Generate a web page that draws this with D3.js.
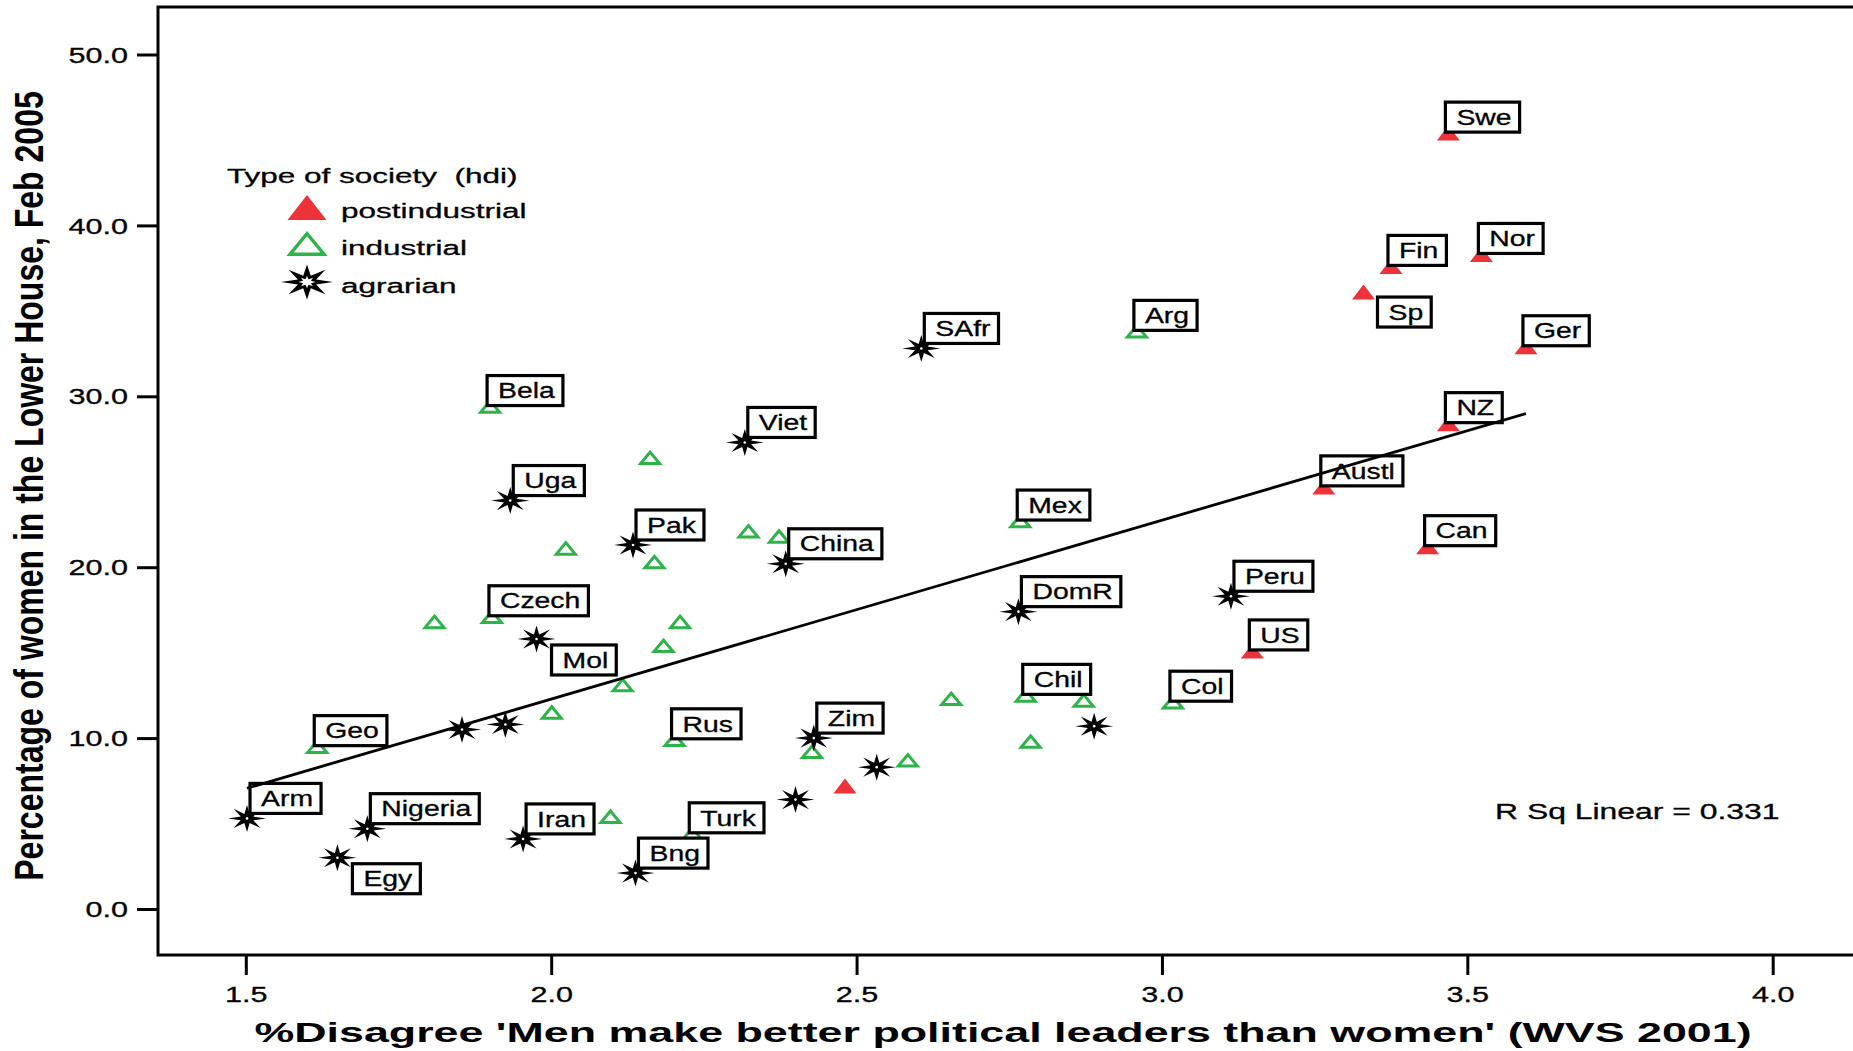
<!DOCTYPE html>
<html><head><meta charset="utf-8">
<script src="https://cdn.jsdelivr.net/npm/d3@7"></script>
<style>
html,body{margin:0;padding:0;background:#fff;overflow:hidden}
svg text{font-family:"Liberation Sans",Arial,Helvetica,sans-serif;fill:#000}
</style></head><body>
<svg id="chart" width="1853" height="1051"></svg>
<script>
// ---------------- data ----------------
const postindustrial = [
  {name:"Swe", x:3.469, y:45.4}, {name:"Nor", x:3.523, y:38.3}, {name:"Fin", x:3.375, y:37.6},
  {name:"Sp", x:3.330, y:36.1}, {name:"Ger", x:3.596, y:32.9}, {name:"NZ", x:3.469, y:28.4},
  {name:"Austl", x:3.265, y:24.7}, {name:"Can", x:3.435, y:21.2}, {name:"US", x:3.148, y:15.1},
  {name:"", x:2.481, y:7.2}
];
const industrial = [
  {name:"Arg", x:2.959, y:33.8}, {name:"Bela", x:1.900, y:29.4}, {name:"", x:2.162, y:26.4},
  {name:"", x:2.323, y:22.1}, {name:"", x:2.373, y:21.8}, {name:"Mex", x:2.768, y:22.7},
  {name:"", x:2.024, y:21.1}, {name:"", x:2.169, y:20.3}, {name:"Czech", x:1.903, y:17.1},
  {name:"", x:1.809, y:16.8}, {name:"", x:2.211, y:16.8}, {name:"", x:2.184, y:15.4},
  {name:"", x:2.117, y:13.1}, {name:"", x:2.655, y:12.3}, {name:"Chil", x:2.777, y:12.5},
  {name:"", x:2.872, y:12.2}, {name:"Col", x:3.018, y:12.1}, {name:"", x:2.001, y:11.5},
  {name:"Rus", x:2.202, y:9.9}, {name:"Geo", x:1.617, y:9.5}, {name:"", x:2.427, y:9.2},
  {name:"", x:2.785, y:9.8}, {name:"", x:2.584, y:8.7}, {name:"", x:2.097, y:5.4},
  {name:"Turk", x:2.231, y:4.4}
];
const agrarian = [
  {name:"SAfr", x:2.606, y:32.8}, {name:"Viet", x:2.317, y:27.3}, {name:"Uga", x:1.933, y:23.9},
  {name:"Pak", x:2.134, y:21.3}, {name:"China", x:2.384, y:20.2}, {name:"Peru", x:3.113, y:18.3},
  {name:"DomR", x:2.765, y:17.4}, {name:"Mol", x:1.976, y:15.8}, {name:"", x:1.925, y:10.8},
  {name:"", x:1.854, y:10.5}, {name:"Zim", x:2.430, y:10.0}, {name:"", x:2.889, y:10.7},
  {name:"", x:2.533, y:8.3}, {name:"", x:2.400, y:6.4}, {name:"Arm", x:1.502, y:5.3},
  {name:"Nigeria", x:1.699, y:4.7}, {name:"Iran", x:1.954, y:4.1}, {name:"Egy", x:1.650, y:3.0},
  {name:"Bng", x:2.138, y:2.1}
];
const xTicks = [1.5, 2.0, 2.5, 3.0, 3.5, 4.0];
const yTicks = [0, 10, 20, 30, 40, 50];
const fitIntercept = -8.66;
const fitSlope = 10.47;
const rSquared = 0.331;
const seriesNames = ["postindustrial", "industrial", "agrarian"];
const legendTitle = "Type of society\u00a0\u00a0(hdi)";
const xTitle = "%Disagree 'Men make better political leaders than women' (WVS 2001)";
const yTitle = "Percentage of women in the Lower House, Feb 2005";
const labelsBelowRight = ["Sp", "Mol", "Egy"];

// ---------------- layout ----------------
const W = 1853, H = 1051;
const frame = {left: 158, top: 7, bottom: 955};
const RED = "#ee3239", GREEN = "#2fb24a";
const svg = d3.select("#chart");
svg.append("rect").attr("width", W).attr("height", H).attr("fill", "#fff");

const x = d3.scaleLinear().domain([1.5, 4.0]).range([245.8, 1772.7]);
const y = d3.scaleLinear().domain([0, 50]).range([909, 54.5]);

// frame (right edge lies outside the picture)
svg.append("rect").attr("x", frame.left).attr("y", frame.top)
  .attr("width", 1800).attr("height", frame.bottom - frame.top)
  .attr("fill", "none").attr("stroke", "#000").attr("stroke-width", 3);

// axes
const FONT = '"Liberation Sans",Arial,Helvetica,sans-serif';
const gx = svg.append("g").attr("transform", `translate(0,${frame.bottom})`)
  .call(d3.axisBottom(x).tickValues(xTicks).tickFormat(d3.format(".1f")).tickSize(20).tickSizeOuter(0));
gx.attr("font-size", 21.5).attr("font-family", FONT);
gx.select(".domain").remove();
gx.selectAll(".tick line").attr("stroke", "#000").attr("stroke-width", 3);
gx.selectAll(".tick text").attr("y", null).attr("dy", null).attr("fill", "#000")
  .attr("stroke", "#000").attr("stroke-width", 0.3)
  .attr("transform", "translate(0,46.5) scale(1.42,1)");

const gy = svg.append("g").attr("transform", `translate(${frame.left},0)`)
  .call(d3.axisLeft(y).tickValues(yTicks).tickFormat(d3.format(".1f")).tickSize(21).tickSizeOuter(0));
gy.attr("font-size", 21.5).attr("font-family", FONT);
gy.select(".domain").remove();
gy.selectAll(".tick line").attr("stroke", "#000").attr("stroke-width", 3);
gy.selectAll(".tick text").attr("x", null).attr("dy", null).attr("fill", "#000")
  .attr("stroke", "#000").attr("stroke-width", 0.3)
  .attr("transform", "translate(-30,7.6) scale(1.42,1)");

// axis titles
svg.append("text").attr("text-anchor", "middle").attr("font-weight", "bold").attr("font-size", 28)
  .attr("transform", "translate(1003,1041.5) scale(1.6,1)").text(xTitle);
svg.append("text").attr("text-anchor", "middle").attr("font-weight", "bold").attr("font-size", 32)
  .attr("transform", "translate(43,486) scale(1.25,1) rotate(-90)").text(yTitle);

// marker shapes
function triPath(w, h) { return `M${-w/2},${h/2}L${w/2},${h/2}L0,${-h/2}Z`; }
function starPath(rx, ry, k) {
  const pts = d3.range(16).map(i => {
    const a = i * Math.PI / 8 - Math.PI / 2, r = i % 2 === 0 ? 1 : k;
    return [Math.cos(a) * r * rx, Math.sin(a) * r * ry];
  });
  return "M" + pts.map(p => p[0].toFixed(2) + "," + p[1].toFixed(2)).join("L") + "Z";
}
function drawMarker(g, type, big) {
  if (type === "postindustrial") {
    g.append("path").attr("d", big ? triPath(39, 25) : triPath(23, 15)).attr("fill", RED);
  } else if (type === "industrial") {
    g.append("path").attr("d", big ? triPath(34, 20.5) : triPath(19, 11.5))
      .attr("fill", "none").attr("stroke", GREEN).attr("stroke-width", big ? 3.4 : 3)
      .attr("stroke-linejoin", "miter");
  } else {
    g.append("path").attr("d", big ? starPath(26, 17.5, 0.38) : starPath(19, 13.5, 0.36)).attr("fill", "#000");
    if (big) g.append("path").attr("d", starPath(8.5, 6, 0.5)).attr("fill", "#fff");
    else g.append("circle").attr("r", 1.3).attr("fill", "#fff");
  }
}

const series = [
  {type: "postindustrial", data: postindustrial},
  {type: "industrial", data: industrial},
  {type: "agrarian", data: agrarian}
];

// points
const pointsG = svg.append("g");
series.forEach(s => {
  pointsG.selectAll(null).data(s.data).enter().append("g")
    .attr("transform", d => `translate(${x(d.x)},${y(d.y)})`)
    .each(function () { drawMarker(d3.select(this), s.type, false); });
});

// labels
const labelG = svg.append("g");
const LS = 1.32;
series.forEach(s => {
  s.data.filter(d => d.name).forEach(d => {
    const mx = x(d.x), my = y(d.y);
    const g = labelG.append("g");
    const rect = g.append("rect").attr("fill", "#fff").attr("stroke", "#000").attr("stroke-width", 3.2);
    const t = g.append("text").attr("font-size", 21.5).attr("stroke", "#000").attr("stroke-width", 0.3).text(d.name);
    const tw = t.node().getComputedTextLength() * LS;
    const bw = tw + 19, bh = 30;
    let left, top;
    if (labelsBelowRight.includes(d.name)) {
      left = mx + (s.type === "agrarian" ? 15 : 14);
      top = my + (s.type === "agrarian" ? 6 : 5);
    } else if (s.type === "agrarian") {
      left = mx + 3; top = my - 5 - bh;
    } else {
      left = mx - 3; top = my - 1 - bh;
    }
    rect.attr("x", left).attr("y", top).attr("width", bw).attr("height", bh);
    t.attr("transform", `translate(${left + 11},${top + 22.7}) scale(${LS},1)`);
  });
});

// regression line
const allX = [...postindustrial, ...industrial, ...agrarian].map(d => d.x);
const xr = d3.extent(allX);
svg.append("line")
  .attr("x1", x(xr[0])).attr("y1", y(fitIntercept + fitSlope * xr[0]))
  .attr("x2", x(xr[1])).attr("y2", y(fitIntercept + fitSlope * xr[1]))
  .attr("stroke", "#000").attr("stroke-width", 2.8);

svg.append("text").attr("font-size", 22).attr("stroke", "#000").attr("stroke-width", 0.3)
  .attr("transform", "translate(1495,819.3) scale(1.45,1)")
  .text(`R Sq Linear = ${rSquared.toFixed(3)}`);

// legend
const lg = svg.append("g");
lg.append("text").attr("font-size", 21).attr("stroke", "#000").attr("stroke-width", 0.3)
  .attr("transform", "translate(227,182.5) scale(1.5,1)").text(legendTitle);
const rowsY = [207.5, 244, 282];
seriesNames.forEach((nm, i) => {
  const g = lg.append("g").attr("transform", `translate(307,${rowsY[i]})`);
  drawMarker(g, nm, true);
  lg.append("text").attr("font-size", 21).attr("stroke", "#000").attr("stroke-width", 0.3)
    .attr("transform", `translate(341,${rowsY[i] + 10.5}) scale(1.5,1)`).text(nm);
});
</script>
</body></html>
